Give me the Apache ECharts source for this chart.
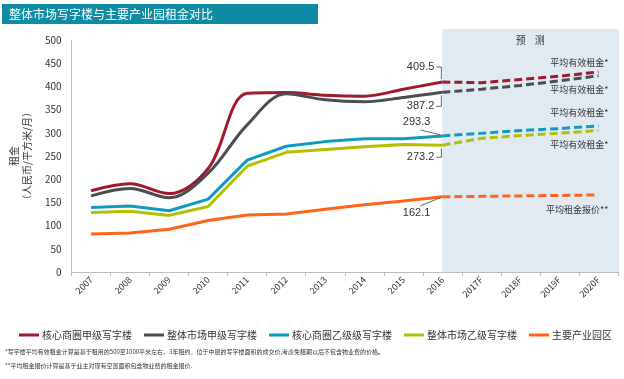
<!DOCTYPE html>
<html>
<head>
<meta charset="utf-8">
<script src="https://cdn.jsdelivr.net/npm/echarts@6/dist/echarts.min.js"></script>
<style>
html,body{margin:0;padding:0;background:#fff;}
#c{width:624px;height:379px;}
</style>
</head>
<body>
<div id="c"></div>
<script>
var categories = ['2007','2008','2009','2010','2011','2012','2013','2014','2015','2016','2017F','2018F','2019F','2020F'];
var seriesNames = ['核心商圈甲级写字楼','整体市场甲级写字楼','核心商圈乙级级写字楼','整体市场乙级写字楼','主要产业园区'];
var cbdGradeA    = [175,190,169,223,385,387,381,379,394,409.5,408,415,422,431];
var marketGradeA = [164,180,160,213,317,384,371,367,376,387.2,394,402,412,423];
var cbdGradeB    = [139,142,132,157,241,271,281,287,287,293.3,299,305,309,315];
var marketGradeB = [128,131,122,141,228,258,264,270,275,273.2,288,294,299,305];
var parks        = [82,84,92,111,123,125,135,145,153,162.1,163,164,165,166];
var yTicks = [0,50,100,150,200,250,300,350,400,450,500];
var endLabels = ['平均有效租金*','平均有效租金*','平均有效租金*','平均有效租金*','平均租金报价**'];
var footnotes = ['*写字楼平均有效租金计算是基于租用的500至1000平米左右，3年租约，位于中层的写字楼面积的成交价,考虑免租期以后不包含物业费的价格。',
                 '**平均租金报价计算是基于业主对现有空置面积包含物业费的租金报价.'];
var titleText = '整体市场写字楼与主要产业园租金对比';
var forecastText = '预    测';

var colors = ['#a0192e','#4a4d51','#0f9bbf','#b3bf00','#ff6319'];
var smooths = [0.35,0.35,false,false,false];
var allData = [cbdGradeA, marketGradeA, cbdGradeB, marketGradeB, parks];
var lastActual = 9;

var FONT = '"Noto Sans CJK SC","Noto Sans",sans-serif';
var chart = echarts.init(document.getElementById('c'), null, {renderer:'canvas'});

var series = [];
allData.forEach(function(d, i){
  var solid = d.map(function(v, k){ return k <= lastActual ? v : '-'; });
  var dashed = d.map(function(v, k){ return k >= lastActual ? v : '-'; });
  series.push({name: seriesNames[i], type:'line', data: solid, symbol:'none', smooth: smooths[i],
    lineStyle:{color: colors[i], width:3}, itemStyle:{color: colors[i]}, z: 3 + i});
  series.push({name: seriesNames[i], type:'line', data: dashed, symbol:'none', smooth:false,
    lineStyle:{color: colors[i], width:3, type:[8,4]}, itemStyle:{color: colors[i]}, z: 3 + i});
});

var option = {
  animation:false,
  textStyle:{fontFamily: FONT},
  grid:{left:58, right:6, top:40, bottom:107},
  xAxis:{type:'category', data: categories, boundaryGap:true,
    axisLine:{lineStyle:{color:'#bdbdbd'}},
    axisTick:{show:true, length:4, lineStyle:{color:'#bdbdbd'}},
    axisLabel:{rotate:45, fontSize:9, color:'#333', fontFamily:FONT, margin:6}},
  yAxis:{type:'value', min:0, max:500, interval:50,
    name:'租金\n（人民币/平方米/月）', nameLocation:'middle', nameGap:34, nameRotate:90,
    nameTextStyle:{fontSize:10, color:'#333', fontFamily:FONT, lineHeight:13},
    axisLine:{show:true, lineStyle:{color:'#bdbdbd'}},
    axisTick:{show:false},
    splitLine:{show:false},
    axisLabel:{fontSize:10, color:'#333', fontFamily:FONT, margin:10}},
  legend:{data: seriesNames, top:325, left:14, width:610, icon:'rect', itemWidth:20, itemHeight:3, itemGap:12,
    textStyle:{fontSize:10, color:'#333', fontFamily:FONT, padding:[0,0,0,-2]}},
  series: series
};
chart.setOption(option);

function px(ci, v){ return chart.convertToPixel({gridIndex:0}, [categories[ci], v]); }

var g = [];
g.push({type:'rect', shape:{x:2, y:4, width:316, height:20}, style:{fill:'#0f8ca4'}, z:100});
g.push({type:'text', style:{text:titleText, x:9, y:14, textVerticalAlign:'middle', fill:'#fff', font:'12px '+FONT}, z:101});
var p16 = px(lastActual, 0);
var gridRight = 624 - 6;
g.push({type:'rect', shape:{x:p16[0], y:29, width:gridRight - p16[0] + 1, height:p16[1]-29}, style:{fill:'#e1eaf3'}, z:-10, silent:true});
g.push({type:'text', style:{text:forecastText, x:(p16[0]+gridRight)/2, y:40, textAlign:'center', textVerticalAlign:'middle', fill:'#333', font:'10px '+FONT}, z:10});

var valueOffsets = [
  {dy:-15, type:'elbow'},
  {dy:14, type:'elbow'},
  {dy:-14, type:'diag'},
  {dy:12, type:'elbow'},
  {dy:16, type:'diag'}
];
allData.forEach(function(d, i){
  var p = px(lastActual, d[lastActual]);
  var o = valueOffsets[i];
  var tx = o.type === 'diag' ? p[0]-12 : p[0]-8;
  g.push({type:'text', style:{text:String(d[lastActual]), x:tx, y:p[1]+o.dy, textAlign:'right', textVerticalAlign:'middle', fill:'#333', font:'11px "Liberation Sans",Arial,sans-serif'}, z:20});
  var pts;
  if (o.type === 'elbow') {
    var s = o.dy < 0 ? -1 : 1;
    pts = [[p[0]-6, p[1]+o.dy],[p[0]-1, p[1]+o.dy],[p[0]-1, p[1]+s*3]];
  } else if (o.dy < 0) {
    pts = [[p[0]-22, p[1]-6],[p[0]-2, p[1]-1]];
  } else {
    pts = [[p[0]-22, p[1]+9],[p[0]-2, p[1]+1]];
  }
  g.push({type:'polyline', shape:{points:pts}, style:{stroke:'#666', lineWidth:1, fill:null}, z:20});
});

var endOffsets = [-9, 14, -13, 14, 15];
allData.forEach(function(d, i){
  var last = categories.length - 1;
  var p = px(last, d[last]);
  g.push({type:'text', style:{text:endLabels[i], x:p[0]+10, y:p[1]+endOffsets[i], textAlign:'right', textVerticalAlign:'middle', fill:'#333', font:'9px '+FONT}, z:20});
});

g.push({type:'text', style:{text:footnotes[0], x:5, y:352, textVerticalAlign:'middle', fill:'#333', font:'6px '+FONT}, z:20});
g.push({type:'text', style:{text:footnotes[1], x:5, y:366, textVerticalAlign:'middle', fill:'#333', font:'6px '+FONT}, z:20});

chart.setOption({graphic:{elements:g}});
</script>
</body>
</html>
